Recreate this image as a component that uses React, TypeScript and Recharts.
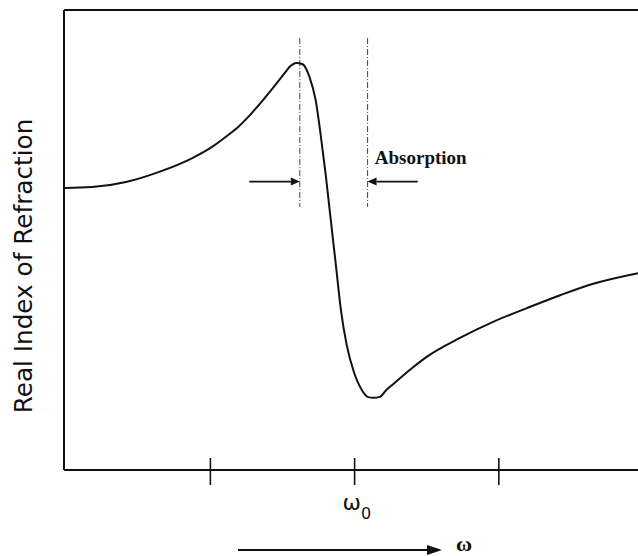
import { LineChart, Line, XAxis, YAxis, ReferenceLine, ReferenceDot } from 'recharts'

// frequency axis (arbitrary units, ω0 = 4) and real index (arbitrary units)
const freq = [
  -0.03, 0.36, 0.83, 1.29, 1.75, 1.99, 2.22, 2.4, 2.58, 2.86, 3.03, 3.11, 3.19, 3.28, 3.375, 3.46,
  3.53, 3.6, 3.67, 3.74, 3.81, 3.89, 3.99, 4.1, 4.18, 4.26, 4.35, 4.44, 4.53, 4.76, 5.0, 5.46,
  5.92, 6.39, 6.85, 7.31, 7.93,
]
const index = [
  6.13, 6.15, 6.26, 6.48, 6.78, 6.99, 7.25, 7.48, 7.77, 8.29, 8.63, 8.78, 8.85, 8.82, 8.54, 8.04,
  7.28, 6.41, 5.43, 4.46, 3.48, 2.72, 2.13, 1.74, 1.59, 1.57, 1.59, 1.74, 1.86, 2.17, 2.46, 2.87,
  3.22, 3.52, 3.8, 4.05, 4.28,
]
const xTicks = [2, 4, 6]
const omega0 = 4

// absorption band markers
const bandLeft = 3.24
const bandRight = 4.18
const bandTop = 9.39
const bandBottom = 5.72
const arrowLeftFrom = 2.54
const arrowRightFrom = 4.875
const arrowY = 6.27
const labelAt = { x: 4.28, y: 6.65 }

const data = freq.map((f, i) => ({ f, n: index[i] }))

function Arrow(props: any) {
  const { x1, y1, x2, y2 } = props
  const dx = x2 - x1
  const dir = dx >= 0 ? 1 : -1
  const head = 9
  return (
    <g>
      <line x1={x1} y1={y1} x2={x2 - dir * head} y2={y2} stroke="#111" strokeWidth={1.6} />
      <polygon
        points={`${x2},${y2} ${x2 - dir * head},${y2 - 4} ${x2 - dir * head},${y2 + 4}`}
        fill="#111"
      />
    </g>
  )
}

function FreqTick(props: any) {
  const { x, y, payload } = props
  return (
    <g>
      <line x1={x} y1={y - 12} x2={x} y2={y + 15} stroke="#111" strokeWidth={1.6} />
      {payload.value === omega0 && (
        <text x={x - 12} y={y + 40} fontFamily="DejaVu Sans" fontSize={22} fill="#111">
          ω
          <tspan fontSize={16} dy={9}>
            0
          </tspan>
        </text>
      )}
    </g>
  )
}

function FreqLabel(props: any) {
  const { viewBox } = props
  const y = viewBox.y + 80
  return (
    <g>
      <line x1={238} y1={y} x2={428} y2={y} stroke="#111" strokeWidth={2} />
      <polygon points={`${442},${y} ${427},${y - 5} ${427},${y + 5}`} fill="#111" />
      <text x={456} y={y + 1} fontFamily="Liberation Serif" fontWeight="bold" fontSize={22} fill="#111">
        ω
      </text>
    </g>
  )
}

function IndexLabel(props: any) {
  const { viewBox } = props
  const cx = viewBox.x + 32
  const cy = viewBox.y + viewBox.height / 2 + 26
  return (
    <text
      x={cx}
      y={cy}
      transform={`rotate(-90 ${cx} ${cy})`}
      textAnchor="middle"
      fontFamily="DejaVu Sans"
      fontSize={24.7}
      fill="#111"
    >
      Real Index of Refraction
    </text>
  )
}

export default function App() {
  return (
    <div style={{ position: 'absolute', left: 0, top: 0, background: '#fff' }}>
      <LineChart width={638} height={556} data={data} margin={{ top: 10, right: 0, bottom: 0, left: 0 }}>
        <XAxis
          dataKey="f"
          type="number"
          domain={[-0.03, 7.93]}
          ticks={xTicks}
          allowDataOverflow
          height={86}
          tickLine={false}
          tickSize={0}
          tickMargin={0}
          tick={<FreqTick />}
          axisLine={{ stroke: '#111', strokeWidth: 2 }}
          label={<FreqLabel />}
        />
        <YAxis
          type="number"
          domain={[0, 10]}
          width={64}
          tick={false}
          tickLine={false}
          axisLine={{ stroke: '#111', strokeWidth: 2 }}
          label={<IndexLabel />}
        />
        <ReferenceLine y={10} stroke="#111" strokeWidth={2} />
        <ReferenceLine
          segment={[{ x: bandLeft, y: bandTop }, { x: bandLeft, y: bandBottom }]}
          stroke="#444"
          strokeWidth={1}
          strokeDasharray="6 2 1 2"
        />
        <ReferenceLine
          segment={[{ x: bandRight, y: bandTop }, { x: bandRight, y: bandBottom }]}
          stroke="#444"
          strokeWidth={1}
          strokeDasharray="6 2 1 2"
        />
        <ReferenceLine
          segment={[{ x: arrowLeftFrom, y: arrowY }, { x: bandLeft, y: arrowY }]}
          shape={(p: any) => <Arrow {...p} />}
        />
        <ReferenceLine
          segment={[{ x: arrowRightFrom, y: arrowY }, { x: bandRight, y: arrowY }]}
          shape={(p: any) => <Arrow {...p} />}
        />
        <ReferenceDot
          x={labelAt.x}
          y={labelAt.y}
          r={0}
          shape={(p: any) => (
            <text x={p.cx} y={p.cy} fontFamily="Liberation Serif" fontWeight="bold" fontSize={19} fill="#111">
              Absorption
            </text>
          )}
        />
        <Line
          type="monotone"
          dataKey="n"
          stroke="#111"
          strokeWidth={2}
          dot={false}
          isAnimationActive={false}
        />
      </LineChart>
    </div>
  )
}
